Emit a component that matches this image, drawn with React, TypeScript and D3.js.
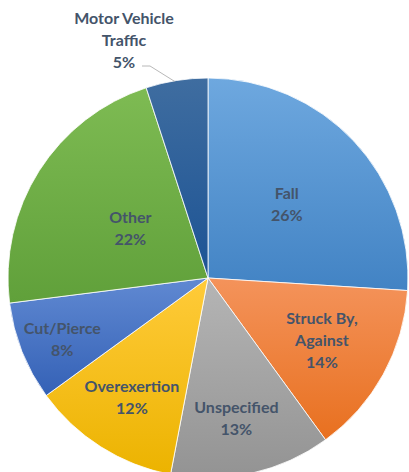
import React from "react";
import * as d3 from "d3";

const categories = ["Fall", "Struck By, Against", "Unspecified", "Overexertion", "Cut/Pierce", "Other", "Motor Vehicle Traffic"];
const values = [26, 14, 13, 12, 8, 22, 5];
const labelLines = [["Fall"], ["Struck By,", "Against"], ["Unspecified"], ["Overexertion"], ["Cut/Pierce"], ["Other"], ["Motor Vehicle", "Traffic"]];
const colorsTop = ["#6EA8DF", "#F4935B", "#B5B5B5", "#FFCB3A", "#6089D2", "#7EBB53", "#3F6DA0"];
const colorsBottom = ["#4283C4", "#E8701F", "#939393", "#ECB300", "#3461B6", "#60A03A", "#1C5394"];

const labelRadius = [0.54, 0.65, 0.715, 0.71, 0.79, 0.46, 1.0];
const labelAngleShift = [0, 0, 0.02, 0, -0.02, 0, 0];

export default function App() {
  const W = 409, H = 472;
  const cx = 208, cy = 278, r = 200;
  const data = categories.map((c, i) => ({ c, v: values[i], i }));
  const pie = d3.pie<any>().sort(null).value((d: any) => d.v);
  const arcs = pie(data);
  const arcGen = d3.arc<any>().innerRadius(0).outerRadius(r);
  const font = "Lato, 'Open Sans', sans-serif";
  const textColor = "#44546A";
  const lh = 22;
  return (
    <svg width={W} height={H} style={{ position: "absolute", left: 0, top: 0 }}>
      <defs>
        {data.map((d, i) => (
          <linearGradient key={i} id={`g${i}`} x1="0" y1="0" x2="0" y2="1">
            <stop offset="0%" stopColor={colorsTop[i]} />
            <stop offset="100%" stopColor={colorsBottom[i]} />
          </linearGradient>
        ))}
      </defs>
      <g transform={`translate(${cx},${cy})`}>
        {arcs.map((a, i) => (
          <path key={i} d={arcGen(a) as string} fill={`url(#g${i})`} stroke="#fff" strokeWidth={0.8} />
        ))}
        {arcs.map((a, i) => {
          const mid = (a.startAngle + a.endAngle) / 2 + labelAngleShift[i];
          const isOut = i === 6;
          const lines = [...labelLines[i], `${values[i]}%`];
          let x = Math.sin(mid) * r * labelRadius[i];
          let y = -Math.cos(mid) * r * labelRadius[i];
          if (isOut) {
            x = 124 - cx;
            y = 40 - cy;
          }
          const y0 = y - ((lines.length - 1) * lh) / 2;
          const ax = Math.sin(mid) * r;
          const ay = -Math.cos(mid) * r;
          return (
            <g key={i}>
              {isOut && (
                <polyline
                  points={`${x + 18},${y0 + 2 * lh + 4} ${x + 26},${y0 + 2 * lh + 4} ${ax - 2},${ay + 1}`}
                  fill="none"
                  stroke="#A6A6A6"
                  strokeWidth={0.8}
                />
              )}
              <text fontFamily={font} fontWeight="bold" fontSize={16} fill={textColor} textAnchor="middle">
                {lines.map((t, k) => (
                  <tspan key={k} x={x} y={y0 + k * lh} dy="0.35em">{t}</tspan>
                ))}
              </text>
            </g>
          );
        })}
      </g>
    </svg>
  );
}
